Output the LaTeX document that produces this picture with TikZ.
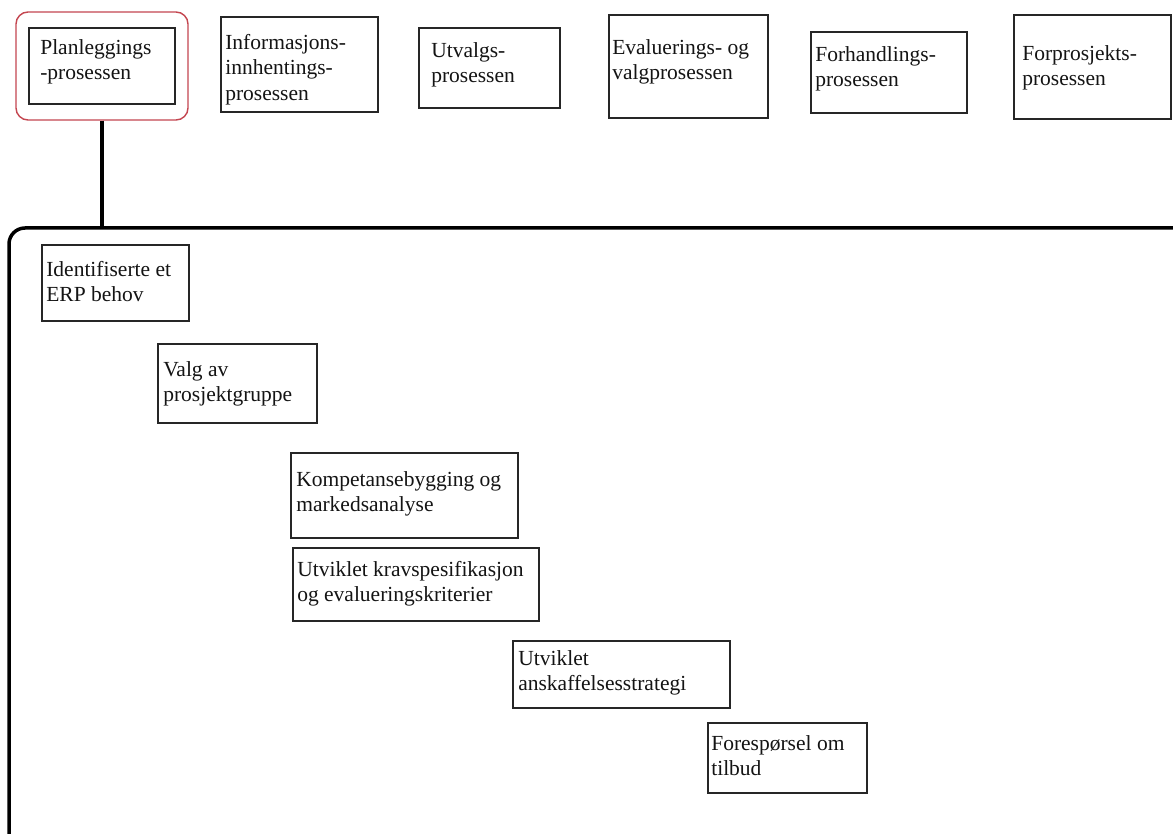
\documentclass[tikz,border=0pt]{standalone}
\usepackage{fontspec}
\setmainfont{Liberation Serif}
\usetikzlibrary{fit}
\definecolor{hlred}{RGB}{196,70,80}
\tikzset{
  procbox/.style={rectangle, draw=black!85, line width=1.8pt, inner sep=0pt},
  boxtext/.style={anchor=base west, inner sep=0pt, text=black!92,
    font=\fontsize{21.5}{25.5}\selectfont},
  highlight/.style={rectangle, draw=hlred, line width=1.4pt,
    rounded corners=12pt, inner sep=0pt},
  heavy/.style={line width=3.5pt, black},
}
% #1 name, #2-#5 corners, #6-#7 offset of the first baseline, #8 text
\newcommand\procnode[8]{%
  \node[procbox, fit={(#2,#3) (#4,#5)}] (#1) {};
  \node[boxtext] (#1-text) at ([shift={(#6,#7)}]#1.north west)
    {\parbox[t]{300pt}{\raggedright #8}};
}
\begin{document}
\begin{tikzpicture}[x=1pt, y=-1pt]
  \useasboundingbox (0,0) rectangle (1173,834);
  \clip (0,0) rectangle (1173,834);
  \fill[white] (0,0) rectangle (1173,834);

  % main process phases
  \node[highlight, fit={(16,12) (188,120)}] (planwrap) {};
  \procnode{plan}{29}{28}{175}{104}{12}{27}{Planleggings\\-prosessen}
  \procnode{info}{221}{17}{378}{112}{5}{33}{Informasjons-\\innhentings-\\prosessen}
  \procnode{utvalg}{419}{28}{560}{108}{13}{30}{Utvalgs-\\prosessen}
  \procnode{eval}{609}{15}{768}{118}{4}{40}{Evaluerings- og\\valgprosessen}
  \procnode{forh}{811}{32}{967}{113}{5}{30}{Forhandlings-\\prosessen}
  \procnode{forpr}{1014}{15}{1171}{119}{9}{46}{Forprosjekts-\\prosessen}

  % detail frame for the planning process
  \coordinate (framejoin) at (planwrap.south |- 0,228);
  \draw[heavy] (planwrap.south) -- (framejoin);
  \draw[heavy, rounded corners=16pt] (1200,228) -- (9,228) -- (9,850);

  % steps of the planning process
  \procnode{ident}{42}{245}{189}{321}{5}{32}{Identifiserte et\\ERP behov}
  \procnode{valg}{158}{344}{317}{423}{6}{33}{Valg av\\prosjektgruppe}
  \procnode{komp}{291}{453}{518}{538}{6}{34}{Kompetansebygging og\\markedsanalyse}
  \procnode{krav}{293}{548}{539}{621}{5}{29}{Utviklet kravspesifikasjon\\og evalueringskriterier}
  \procnode{anskaff}{513}{641}{730}{708}{6}{25}{Utviklet\\anskaffelsesstrategi}
  \procnode{foresp}{708}{723}{867}{793}{4}{28}{Forespørsel om\\tilbud}
\end{tikzpicture}
\end{document}
